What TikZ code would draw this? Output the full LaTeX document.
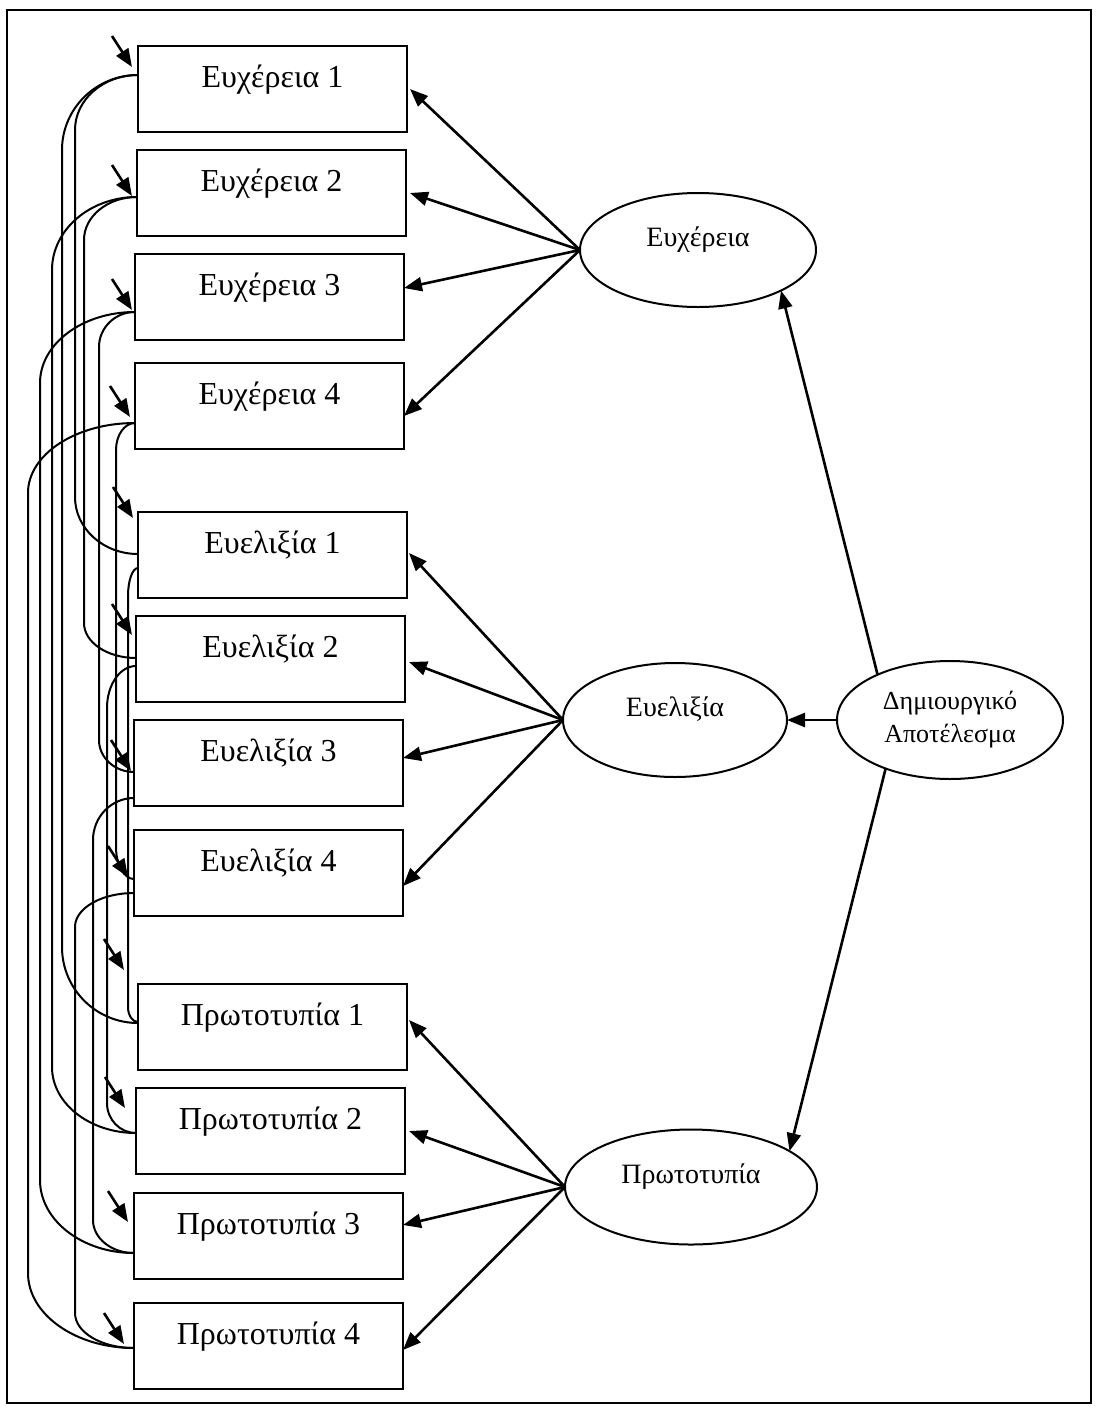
\documentclass[tikz,border=0pt]{standalone}
\usepackage{fontspec}
\setmainfont{Liberation Serif}
\usetikzlibrary{arrows.meta,calc,shapes.geometric}

% Correlated residuals: leave box #1 (offset #2 below its top), run down the
% vertical x = #5, enter box #3 (offset #4 below its top); #6/#7 are the bend heights.
\newcommand\drawcov[7]{%
  \draw[cov] let \p1=($(#1.north west)+(0,#2)$), \p2=($(#3.north west)+(0,#4)$) in
    (\p1) .. controls ({\x1-0.5523*(\x1-#5pt)},\y1) and (#5pt,{\y1-0.4477*#6pt})
          .. (#5pt,{\y1-#6pt})
    -- (#5pt,{\y2+#7pt})
          .. controls (#5pt,{\y2+0.4477*#7pt}) and ({\x2-0.5523*(\x2-#5pt)},\y2)
          .. (\p2);
}

\begin{document}
\begin{tikzpicture}[x=1pt,y=-1pt,
  obs/.style={draw, line width=2pt, rectangle, anchor=north west,
    minimum width=269pt, minimum height=86pt, inner sep=0pt, outer sep=0pt,
    text height=41pt, text depth=45pt, font=\fontsize{32}{36}\selectfont},
  lat/.style={draw, line width=2pt, ellipse, inner sep=0pt, outer sep=0pt,
    text height=12pt, text depth=20pt, font=\fontsize{28}{32}\selectfont},
  load/.style={line width=2.6pt, -{Triangle[length=18pt,width=14pt]}},
  err/.style={line width=2.6pt, {Triangle[length=18pt,width=14pt]}-},
  cov/.style={line width=2pt}]

\fill[white] (0,0) rectangle (1097,1409);
\useasboundingbox (0,0) rectangle (1097,1409);

% outer frame
\draw[line width=2pt] (7,10) rectangle (1091,1403);

% observed variables
\node[obs] (e1) at (138,46)   {Ευχέρεια 1};
\node[obs] (e2) at (137,150)  {Ευχέρεια 2};
\node[obs] (e3) at (135,254)  {Ευχέρεια 3};
\node[obs] (e4) at (135,363)  {Ευχέρεια 4};
\node[obs] (f1) at (138,512)  {Ευελιξία 1};
\node[obs] (f2) at (136,616)  {Ευελιξία 2};
\node[obs] (f3) at (134,720)  {Ευελιξία 3};
\node[obs] (f4) at (134,830)  {Ευελιξία 4};
\node[obs] (p1) at (138,984)  {Πρωτοτυπία 1};
\node[obs] (p2) at (136,1088) {Πρωτοτυπία 2};
\node[obs] (p3) at (134,1193) {Πρωτοτυπία 3};
\node[obs] (p4) at (134,1303) {Πρωτοτυπία 4};

% latent variables
\node[lat, minimum width=236pt, minimum height=114pt] (eu) at (698,250)  {Ευχέρεια};
\node[lat, minimum width=224pt, minimum height=114pt] (ev) at (675,720)  {Ευελιξία};
\node[lat, minimum width=252pt, minimum height=115pt] (pr) at (691,1187) {Πρωτοτυπία};
\node[lat, minimum width=226pt, minimum height=118pt, align=center,
      text height=, text depth=, font=\fontsize{26}{33}\selectfont]
      (d) at (950,720) {Δημιουργικό\\Αποτέλεσμα};

% second-order loadings
\draw[load] (d.148)  -- (eu.-26);
\draw[load] (d.west) -- (ev.east);
\draw[load] (d.217)  -- (pr.20);

% first-order loadings
\draw[load] (eu.west) -- ([xshift=3pt]e1.east);
\draw[load] (eu.west) -- ([xshift=4pt]e2.east);
\draw[load] (eu.west) -- ([yshift=9pt]e3.east);
\draw[load] (eu.west) -- ([yshift=-10pt]e4.east);
\draw[load] (ev.west) -- ([xshift=2pt,yshift=2pt]f1.east);
\draw[load] (ev.west) -- ([xshift=4pt,yshift=-3pt]f2.east);
\draw[load] (ev.west) -- ([yshift=5pt]f3.east);
\draw[load] (ev.west) -- ([yshift=-13pt]f4.east);
\draw[load] (pr.west) -- ([xshift=2pt,yshift=7pt]p1.east);
\draw[load] (pr.west) -- ([xshift=4pt]p2.east);
\draw[load] (pr.west) -- ([yshift=11pt]p3.east);
\draw[load] (pr.west) -- ([yshift=-4pt]p4.east);

% error terms
\draw[err] ($(e1.north west)+(-6,21)$)  -- ++(-20,-31);
\draw[err] ($(e2.north west)+(-5,46)$)  -- ++(-20,-31);
\draw[err] ($(e3.north west)+(-3,56)$)  -- ++(-20,-31);
\draw[err] ($(e4.north west)+(-5,54)$)  -- ++(-20,-31);
\draw[err] ($(f1.north west)+(-5,6)$)   -- ++(-20,-31);
\draw[err] ($(f2.north west)+(-4,19)$)  -- ++(-20,-31);
\draw[err] ($(f3.north west)+(-3,51)$)  -- ++(-20,-31);
\draw[err] ($(f4.north west)+(-6,47)$)  -- ++(-20,-31);
\draw[err] ($(p1.north west)+(-14,-14)$) -- ++(-20,-31);
\draw[err] ($(p2.north west)+(-11,20)$) -- ++(-20,-31);
\draw[err] ($(p3.north west)+(-6,29)$)  -- ++(-20,-31);
\draw[err] ($(p4.north west)+(-10,41)$) -- ++(-20,-31);

% residual covariances
\drawcov{e1}{29}{f1}{42}{75}{55}{57}
\drawcov{e1}{29}{p1}{39}{62}{75}{76}
\drawcov{e2}{47}{f2}{42}{84}{43}{35}
\drawcov{e2}{47}{p2}{45}{52}{73}{66}
\drawcov{e3}{58}{f3}{52}{99}{35}{32}
\drawcov{e3}{58}{p3}{60}{40}{71}{73}
\drawcov{e4}{60}{f4}{49}{116}{27}{32}
\drawcov{e4}{60}{p4}{45}{28}{70}{75}
\drawcov{f1}{56}{p1}{38}{128}{28}{15}
\drawcov{f2}{50}{p2}{45}{107}{42}{30}
\drawcov{f3}{78}{p3}{60}{93}{42}{33}
\drawcov{f4}{63}{p4}{45}{75}{34}{35}

\end{tikzpicture}
\end{document}
